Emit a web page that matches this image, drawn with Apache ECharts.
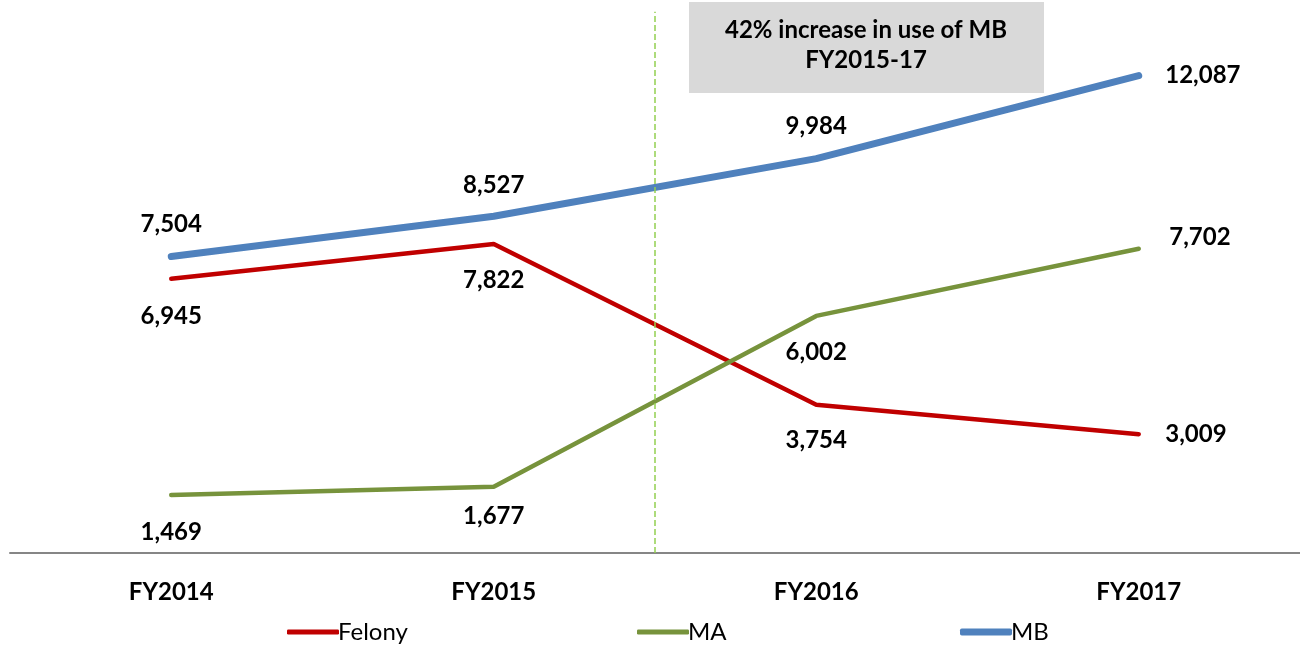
<!DOCTYPE html>
<html>
<head>
<meta charset="utf-8">
<script src="https://cdn.jsdelivr.net/npm/echarts@6/dist/echarts.min.js"></script>
<style>
  html, body { margin: 0; padding: 0; background: #fff; }
  #chart { width: 1300px; height: 649px; }
</style>
</head>
<body>
<div id="chart"></div>
<script>
// data
var years = ['FY2014', 'FY2015', 'FY2016', 'FY2017'];
var felony = [6945, 7822, 3754, 3009];
var ma = [1469, 1677, 6002, 7702];
var mb = [7504, 8527, 9984, 12087];
var splitAt = 1.5; // dashed divider between FY2015 and FY2016
var noteLines = ['42% increase in use of MB', 'FY2015-17'];

var FONT = 'Lato, "Open Sans", sans-serif';
var FS = 24;

// label placement for each point (top / bottom / right)
function points(values, places) {
    return values.map(function (v, i) {
        var p = places[i];
        var lab = { position: p[0], distance: p[1] };
        if (p[2]) lab.offset = [0, p[2]];
        return { value: v, label: lab };
    });
}

var myChart = echarts.init(document.getElementById('chart'));

var labelBase = {
    show: true,
    fontFamily: FONT,
    fontWeight: 'bold',
    fontSize: FS,
    color: '#000',
    formatter: function (p) { return p.value.toLocaleString('en-US'); }
};

function legendAt(name, left, color, h) {
    return {
        left: left,
        bottom: 0,
        itemWidth: 52,
        itemHeight: h,
        icon: 'roundRect',
        itemStyle: { color: color },
        textStyle: { fontFamily: FONT, fontSize: FS, color: '#000', padding: [0, 0, 0, -6] },
        data: [name]
    };
}

var option = {
    animation: false,
    grid: { left: 10, right: 0, top: 0, bottom: 96 },
    xAxis: [{
        type: 'category',
        data: years,
        boundaryGap: true,
        axisLine: { lineStyle: { color: '#868686', width: 2 } },
        axisTick: { show: false },
        axisLabel: { fontFamily: FONT, fontWeight: 'bold', fontSize: FS, color: '#000', margin: 27 }
    }, {
        type: 'value',
        min: -0.5,
        max: 3.5,
        show: false
    }],
    yAxis: {
        type: 'value',
        min: 0,
        max: 14000,
        show: false
    },
    legend: [
        legendAt('Felony', 282, '#c00000', 5),
        legendAt('MA', 632, '#77933c', 5),
        legendAt('MB', 955, '#4f81bd', 7)
    ],
    graphic: [{
        type: 'rect',
        shape: { x: 689, y: 2, width: 355, height: 91 },
        style: { fill: '#d9d9d9' },
        z: 1
    }, {
        type: 'text',
        x: 866, y: 30,
        style: {
            text: noteLines[0], fontFamily: FONT, fontWeight: 'bold', fontSize: FS,
            fill: '#000', align: 'center', verticalAlign: 'middle'
        },
        z: 2
    }, {
        type: 'text',
        x: 866, y: 60,
        style: {
            text: noteLines[1], fontFamily: FONT, fontWeight: 'bold', fontSize: FS,
            fill: '#000', align: 'center', verticalAlign: 'middle'
        },
        z: 2
    }],
    series: [{
        name: 'Felony',
        type: 'line',
        symbol: 'circle',
        symbolSize: 1,
        lineStyle: { color: '#c00000', width: 4.5, cap: 'round' },
        itemStyle: { color: '#c00000' },
        label: labelBase,
        data: points(felony, [['bottom', 25], ['bottom', 24], ['bottom', 23], ['right', 26]]),
        z: 3
    }, {
        name: 'MA',
        type: 'line',
        symbol: 'circle',
        symbolSize: 1,
        lineStyle: { color: '#77933c', width: 4.5, cap: 'round' },
        itemStyle: { color: '#77933c' },
        label: labelBase,
        data: points(ma, [['bottom', 25], ['bottom', 17], ['bottom', 24], ['right', 30, -12]]),
        z: 3
    }, {
        name: 'MB',
        type: 'line',
        symbol: 'circle',
        symbolSize: 1,
        lineStyle: { color: '#4f81bd', width: 7, cap: 'round' },
        itemStyle: { color: '#4f81bd' },
        label: labelBase,
        data: points(mb, [['top', 20], ['top', 18], ['top', 20], ['right', 26]]),
        z: 4
    }, {
        name: 'divider',
        type: 'line',
        xAxisIndex: 1,
        data: [],
        markLine: {
            symbol: 'none',
            silent: true,
            label: { show: false },
            lineStyle: { color: '#92d050', type: [6, 3], width: 1.5 },
            data: [[{ coord: [splitAt, 0] }, { coord: [splitAt, 13700] }]]
        }
    }]
};

myChart.setOption(option);
</script>
</body>
</html>
